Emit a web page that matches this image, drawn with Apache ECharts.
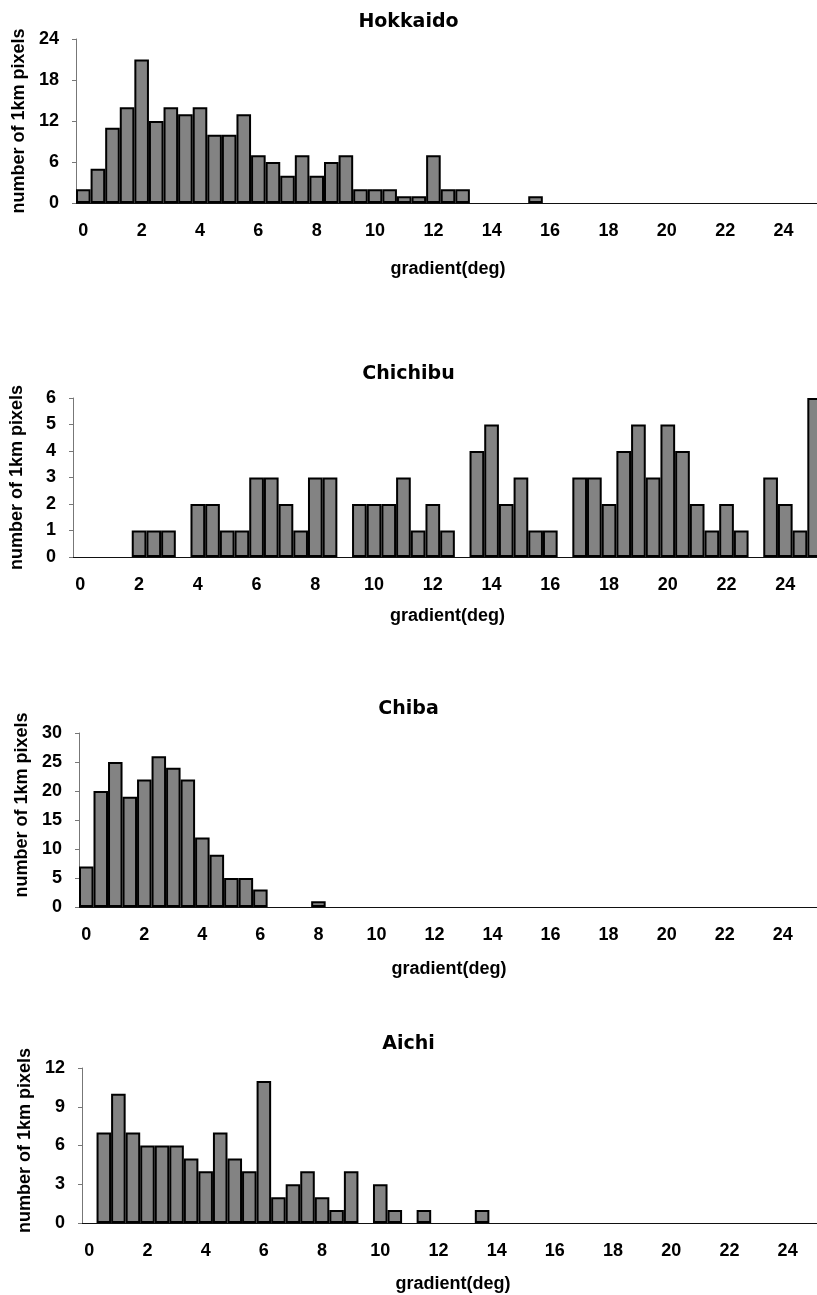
<!DOCTYPE html>
<html>
<head>
<meta charset="utf-8">
<title>gradient histograms</title>
<script src="https://cdn.jsdelivr.net/npm/echarts@6/dist/echarts.min.js"></script>
<style>
	html, body { margin: 0; padding: 0; background: #fff; }
	#chart-one { width: 817px; height: 1295px; }
</style>
</head>
<body>
<div id="chart-one"></div>
<script>
// gradient bins, 0.5 deg wide
var gradientBins = ['0', '0.5', '1', '1.5', '2', '2.5', '3', '3.5', '4', '4.5',
	'5', '5.5', '6', '6.5', '7', '7.5', '8', '8.5', '9', '9.5',
	'10', '10.5', '11', '11.5', '12', '12.5', '13', '13.5', '14', '14.5',
	'15', '15.5', '16', '16.5', '17', '17.5', '18', '18.5', '19', '19.5',
	'20', '20.5', '21', '21.5', '22', '22.5', '23', '23.5', '24', '24.5', '25'];

var regionNames = ['Hokkaido', 'Chichibu', 'Chiba', 'Aichi'];

var hokkaidoCounts = [2, 5, 11, 14, 21, 12, 14, 13, 14, 10,
	10, 13, 7, 6, 4, 7, 4, 6, 7, 2,
	2, 2, 1, 1, 7, 2, 2, 0, 0, 0,
	0, 1, 0, 0, 0, 0, 0, 0, 0, 0,
	0, 0, 0, 0, 0, 0, 0, 0, 0, 0, 0];

var chichibuCounts = [0, 0, 0, 0, 1, 1, 1, 0, 2, 2,
	1, 1, 3, 3, 2, 1, 3, 3, 0, 2,
	2, 2, 3, 1, 2, 1, 0, 4, 5, 2,
	3, 1, 1, 0, 3, 3, 2, 4, 5, 3,
	5, 4, 2, 1, 2, 1, 0, 3, 2, 1, 6];

var chibaCounts = [7, 20, 25, 19, 22, 26, 24, 22, 12, 9,
	5, 5, 3, 0, 0, 0, 1, 0, 0, 0,
	0, 0, 0, 0, 0, 0, 0, 0, 0, 0,
	0, 0, 0, 0, 0, 0, 0, 0, 0, 0,
	0, 0, 0, 0, 0, 0, 0, 0, 0, 0, 0];

var aichiCounts = [0, 7, 10, 7, 6, 6, 6, 5, 4, 7,
	5, 4, 11, 2, 3, 4, 2, 1, 4, 0,
	3, 1, 0, 1, 0, 0, 0, 1, 0, 0,
	0, 0, 0, 0, 0, 0, 0, 0, 0, 0,
	0, 0, 0, 0, 0, 0, 0, 0, 0, 0, 0];

var yMax = [24, 6, 30, 12];
var yStep = [6, 1, 5, 3];

var Histograms = function(){
	this.mychart = echarts.init(document.getElementById('chart-one'));

	// plot boxes (px)
	var boxes = [
		{top: 39, bottom: 1092, left: 76, right: -3, titleTop: 8, nameGap: 57, namePad: 0},
		{top: 398, bottom: 738, left: 73, right: -5, titleTop: 360, nameGap: 50, namePad: 0},
		{top: 733, bottom: 388, left: 79, right: -2, titleTop: 695, nameGap: 53, namePad: 30},
		{top: 1068, bottom: 72, left: 82, right: -7, titleTop: 1030, nameGap: 52, namePad: 10}
	];

	var labelFont = {
		'color': '#000',
		'fontFamily': 'Liberation Sans',
		'fontWeight': 'bold',
		'fontSize': 18
	};

	this.initChart = function(counts){
		var titles = [], grids = [], xAxes = [], yAxes = [], series = [];

		for (var i = 0; i < counts.length; i++) {
			var b = boxes[i];
			titles.push({
				'text': regionNames[i],
				'left': 'center',
				'top': b.titleTop,
				'textStyle': {
					'color': '#000',
					'fontFamily': 'DejaVu Sans',
					'fontWeight': 'bold',
					'fontSize': 19
				}
			});
			grids.push({
				'top': b.top,
				'bottom': b.bottom,
				'left': b.left,
				'right': b.right,
				'outerBoundsMode': 'none'
			});
			xAxes.push({
				'type': 'category',
				'gridIndex': i,
				'data': gradientBins,
				'boundaryGap': true,
				'name': 'gradient(deg)',
				'nameLocation': 'middle',
				'nameGap': b.nameGap,
				'nameTextStyle': {
					'color': '#000',
					'fontFamily': 'Liberation Sans',
					'fontWeight': 'bold',
					'fontSize': 18
				},
				'axisLine': {'lineStyle': {'color': '#111', 'width': 1.2}},
				'axisTick': {'interval': 1, 'inside': true, 'length': 4, 'lineStyle': {'color': '#222'}},
				'axisLabel': Object.assign({'interval': 3, 'margin': 19}, labelFont),
				'splitLine': {'show': false}
			});
			yAxes.push({
				'type': 'value',
				'gridIndex': i,
				'min': 0,
				'max': yMax[i],
				'interval': yStep[i],
				'name': 'number of 1km pixels',
				'nameLocation': 'middle',
				'nameRotate': 90,
				'nameGap': 47,
				'nameTextStyle': {
					'color': '#000',
					'fontFamily': 'Liberation Sans',
					'fontWeight': 'bold',
					'fontSize': 18,
					'padding': [0, 0, 0, b.namePad]
				},
				'axisLine': {'show': true, 'lineStyle': {'color': '#777', 'width': 1}},
				'axisTick': {'show': true, 'length': 4, 'lineStyle': {'color': '#777'}},
				'axisLabel': Object.assign({'margin': 17}, labelFont),
				'splitLine': {'show': false}
			});
			series.push({
				'type': 'bar',
				'xAxisIndex': i,
				'yAxisIndex': i,
				'barCategoryGap': '0%',
				'itemStyle': {
					'color': '#838383',
					'borderColor': '#000',
					'borderWidth': 2
				},
				// empty bins draw nothing
				'data': counts[i].map(function(v){ return v === 0 ? '-' : v; })
			});
		}

		var option = {
			backgroundColor: '#fff',
			animation: false,
			title: titles,
			grid: grids,
			xAxis: xAxes,
			yAxis: yAxes,
			series: series
		};

		this.mychart.setOption(option);
	}
}

var chart = new Histograms();
chart.initChart([hokkaidoCounts, chichibuCounts, chibaCounts, aichiCounts]);
</script>
</body>
</html>
